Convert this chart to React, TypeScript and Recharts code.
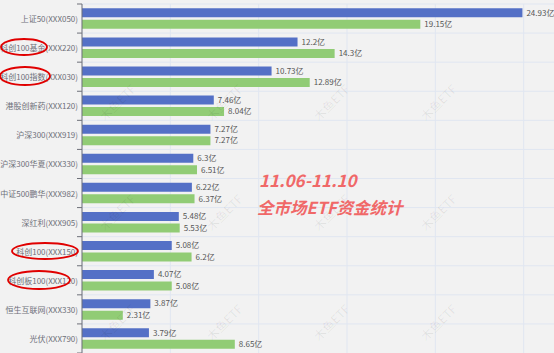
import React from 'react';
import { BarChart, Bar, XAxis, YAxis, CartesianGrid, LabelList } from 'recharts';

const categories = [
  '上证50(XXX050)',
  '科创100基金(XXX220)',
  '科创100指数(XXX030)',
  '港股创新药(XXX120)',
  '沪深300(XXX919)',
  '沪深300华夏(XXX330)',
  '中证500鹏华(XXX982)',
  '深红利(XXX905)',
  '科创100(XXX150)',
  '科创板100(XXX120)',
  '恒生互联网(XXX330)',
  '光伏(XXX790)',
];
const seriesA = [24.93, 12.2, 10.73, 7.46, 7.27, 6.3, 6.22, 5.48, 5.08, 4.07, 3.87, 3.79];
const seriesB = [19.15, 14.3, 12.89, 8.04, 7.27, 6.51, 6.37, 5.53, 6.2, 5.08, 2.31, 8.65];
const xTicks = [0, 5, 10, 15, 20, 25, 30];
const titleLines = ['11.06-11.10', '全市场ETF资金统计'];
const watermark = '木鱼ETF';

const data = categories.map((name, i) => ({ name, a: seriesA[i], b: seriesB[i] }));

const FONT = "'Noto Sans CJK SC', 'Noto Sans', sans-serif";
const CHART_W = 620;
const CHART_H = 360;
const MARGIN = { top: 4, right: 8, bottom: 7, left: 0 };
const Y_W = 82;
const PLOT_H = CHART_H - MARGIN.top - MARGIN.bottom;
const BAND = PLOT_H / categories.length;
const AXIS_COLOR = '#6e7079';

const CategoryTick = (props: any) => {
  const { y, payload, index } = props;
  const ax = MARGIN.left + Y_W;
  return (
    <g>
      <line x1={ax - 5} x2={ax} y1={y - BAND / 2} y2={y - BAND / 2} stroke={AXIS_COLOR} strokeWidth={1} />
      {index === categories.length - 1 && (
        <line x1={ax - 5} x2={ax} y1={y + BAND / 2} y2={y + BAND / 2} stroke={AXIS_COLOR} strokeWidth={1} />
      )}
      <text x={ax - 4} y={y} textAnchor="end" dominantBaseline="central" fontSize={8} fill={AXIS_COLOR} fontFamily={FONT}>
        {payload.value}
      </text>
    </g>
  );
};

const fmt = (v: any) => `${v}亿`;

const marks: Array<[number, number]> = [];
for (let r = 1; r < 4; r++) {
  for (let c = 1; c < 5; c++) {
    marks.push([10 + 107 * c, -8 + 110 * r]);
  }
}

export default function App() {
  return (
    <div
      style={{
        position: 'fixed',
        left: 0,
        top: 0,
        width: 554,
        height: 353,
        overflow: 'hidden',
        background: '#f2f2f2',
        fontFamily: FONT,
      }}
    >
      <BarChart
        width={CHART_W}
        height={CHART_H}
        data={data}
        layout="vertical"
        margin={MARGIN}
        barCategoryGap={4.3}
        barGap={2.5}
        style={{ fontFamily: FONT }}
      >
        <CartesianGrid
          stroke="#e0e6f1"
          strokeWidth={1}
          horizontalCoordinatesGenerator={({ offset }: any) =>
            categories.map((_, i) => offset.top + (i * offset.height) / categories.length)
          }
          verticalCoordinatesGenerator={({ offset }: any) =>
            xTicks.map((t) => offset.left + (t / xTicks[xTicks.length - 1]) * offset.width)
          }
        />
        <XAxis type="number" hide domain={[0, 30]} ticks={xTicks} />
        <YAxis
          type="category"
          dataKey="name"
          width={Y_W}
          axisLine={{ stroke: AXIS_COLOR }}
          tickLine={false}
          interval={0}
          tick={<CategoryTick />}
        />
        <Bar dataKey="a" fill="#5470c6" isAnimationActive={false}>
          <LabelList dataKey="a" position="right" offset={4} formatter={fmt} fill="#555" fontSize={8} fontFamily={FONT} />
        </Bar>
        <Bar dataKey="b" fill="#91cc75" isAnimationActive={false}>
          <LabelList dataKey="b" position="right" offset={4} formatter={fmt} fill="#555" fontSize={8} fontFamily={FONT} />
        </Bar>
      </BarChart>
      <svg width={554} height={353} style={{ position: 'absolute', left: 0, top: 0, pointerEvents: 'none' }}>
        {marks.map(([x, y], i) => (
          <text
            key={i}
            x={x}
            y={y}
            transform={`rotate(-45 ${x} ${y})`}
            textAnchor="middle"
            dominantBaseline="central"
            fontSize={12}
            fill="rgba(0,0,0,0.07)"
            fontFamily={FONT}
          >
            {watermark}
          </text>
        ))}
        <text x={259} y={187} fontSize={17} fontWeight="bold" fontStyle="italic" fill="#f06868" fontFamily={FONT}>
          {titleLines[0]}
        </text>
        <text x={257} y={214} fontSize={16.5} fontWeight="bold" fontStyle="italic" fill="#f06868" fontFamily={FONT}>
          {titleLines[1]}
        </text>
        <ellipse cx={24} cy={47} rx={23} ry={8} fill="none" stroke="#e00000" strokeWidth={1.8} />
        <ellipse cx={25} cy={76} rx={25} ry={9} fill="none" stroke="#e00000" strokeWidth={1.8} />
        <ellipse cx={45} cy={251} rx={33} ry={8} fill="none" stroke="#e00000" strokeWidth={1.8} />
        <ellipse cx={39} cy={280} rx={31} ry={9} fill="none" stroke="#e00000" strokeWidth={1.8} />
      </svg>
    </div>
  );
}
